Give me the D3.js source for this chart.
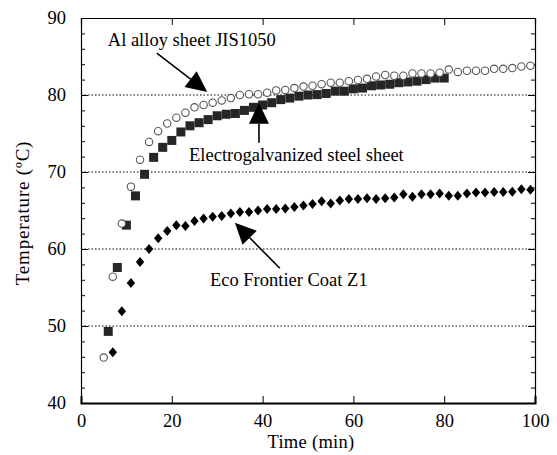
<!DOCTYPE html>
<html>
<head>
<meta charset="utf-8">
<script src="https://cdn.jsdelivr.net/npm/d3@7"></script>
<style>
  html, body { margin: 0; padding: 0; background: #fff; }
  svg { display: block; font-family: "Liberation Serif", "Times New Roman", serif; }
</style>
</head>
<body>
<svg id="chart" width="557" height="455"></svg>
<script>
// Temperature rise of three sheet materials over time
const alTime = [5,7,9,11,13,15,17,19,21,23,25,27,29,31,33,35,37,39,41,43,45,47,49,51,53,55,57,59,61,63,65,67,69,71,73,75,77,79,81,83,85,87,89,91,93,95,97,99];
const alTemp = [45.9,56.4,63.3,68.1,71.6,73.9,75.3,76.3,77.05,77.7,78.4,78.7,79.0,79.3,79.6,80.0,80.1,80.1,80.3,80.6,80.65,80.9,81.1,81.2,81.4,81.6,81.6,81.8,81.95,82.1,82.4,82.6,82.5,82.5,82.8,82.8,82.8,82.9,83.3,83.0,83.15,83.15,83.15,83.4,83.4,83.5,83.7,83.8];

const egTime = [6,8,10,12,14,16,18,20,22,24,26,28,30,32,34,36,38,40,42,44,46,48,50,52,54,56,58,60,62,64,66,68,70,72,74,76,78,80];
const egTemp = [49.3,57.6,63.1,66.9,69.7,71.9,73.2,74.1,75.2,76.0,76.4,76.8,77.3,77.5,77.6,78.0,78.4,78.7,79.0,79.4,79.6,79.85,80.0,80.05,80.2,80.5,80.5,80.8,80.9,81.2,81.3,81.4,81.6,81.7,81.8,82.0,82.2,82.2];

const ecoTime = [7,9,11,13,15,17,19,21,23,25,27,29,31,33,35,37,39,41,43,45,47,49,51,53,55,57,59,61,63,65,67,69,71,73,75,77,79,81,83,85,87,89,91,93,95,97,99];
const ecoTemp = [46.6,51.9,55.6,58.3,60.0,61.4,62.35,63.1,63.0,63.65,63.95,64.2,64.3,64.6,64.8,64.8,65.0,65.2,65.2,65.25,65.45,65.65,65.85,66.2,65.9,66.3,66.5,66.5,66.6,66.5,66.6,66.7,67.1,66.8,67.1,67.1,67.2,66.9,66.9,67.2,67.35,67.35,67.4,67.4,67.45,67.75,67.7];

const xTicks = [0, 20, 40, 60, 80, 100];
const yTicks = [40, 50, 60, 70, 80, 90];
const yMinorTicks = [42,44,46,48,52,54,56,58,62,64,66,68,72,74,76,78,82,84,86,88];
const gridValues = [50, 60, 70, 80];

// Callout labels: text anchor and arrow (tail -> tip), in data units
const labels = [
  { text: "Al alloy sheet JIS1050", at: [5.9, 86.4], tail: [16.7, 85.45], tip: [27.8, 80.4] },
  { text: "Electrogalvanized steel sheet", at: [23.8, 71.4], tail: [39.2, 73.8], tip: [39.2, 79.0] },
  { text: "Eco Frontier Coat Z1", at: [28.4, 55.2], tail: [43.8, 57.5], tip: [33.9, 63.4] }
];

const svg = d3.select("#chart");
const plot = { left: 81, right: 535, top: 18, bottom: 403 };

const x = d3.scaleLinear().domain([0, 100]).range([plot.left, plot.right]);
const y = d3.scaleLinear().domain([40, 90]).range([plot.bottom, plot.top]);

// Dotted horizontal grid
svg.append("g").selectAll("line").data(gridValues).join("line")
  .attr("x1", plot.left).attr("x2", plot.right)
  .attr("y1", d => y(d)).attr("y2", d => y(d))
  .attr("stroke", "#000").attr("stroke-width", 1)
  .attr("stroke-dasharray", "1.5,2");

// Axes (ticks drawn inward on all four sides)
const fontSize = 18.5;
const axBottom = svg.append("g").attr("transform", `translate(0,${plot.bottom})`)
  .call(d3.axisBottom(x).tickValues(xTicks).tickSize(-7).tickPadding(11).tickFormat(d3.format("d")));
const axTop = svg.append("g").attr("transform", `translate(0,${plot.top})`)
  .call(d3.axisTop(x).tickValues(xTicks).tickSize(-7).tickFormat(""));
const axLeft = svg.append("g").attr("transform", `translate(${plot.left},0)`)
  .call(d3.axisLeft(y).tickValues(yTicks).tickSize(-7).tickPadding(15).tickFormat(d3.format("d")));
const axRight = svg.append("g").attr("transform", `translate(${plot.right},0)`)
  .call(d3.axisRight(y).tickValues(yTicks).tickSize(-7).tickFormat(""));
const minorLeft = svg.append("g").attr("transform", `translate(${plot.left},0)`)
  .call(d3.axisLeft(y).tickValues(yMinorTicks).tickSize(-4).tickFormat(""));
const minorRight = svg.append("g").attr("transform", `translate(${plot.right},0)`)
  .call(d3.axisRight(y).tickValues(yMinorTicks).tickSize(-4).tickFormat(""));

[axBottom, axTop, axLeft, axRight, minorLeft, minorRight].forEach(g => {
  g.selectAll(".domain").attr("stroke", "#000").attr("stroke-width", 1.2);
  g.selectAll(".tick line").attr("stroke", "#000").attr("stroke-width", 1);
  g.selectAll("text").attr("font-family", "Liberation Serif").attr("font-size", fontSize).attr("fill", "#000");
});
minorLeft.select(".domain").remove();
minorRight.select(".domain").remove();
axBottom.select(".domain").attr("stroke-width", 2);

// Axis titles
svg.append("text")
  .attr("x", 311).attr("y", 448)
  .attr("text-anchor", "middle").attr("font-size", fontSize)
  .attr("letter-spacing", 0.3)
  .text("Time (min)");
svg.append("text")
  .attr("transform", `translate(29,213) rotate(-90)`)
  .attr("text-anchor", "middle").attr("font-size", 19)
  .attr("letter-spacing", 0.8)
  .text("Temperature (ºC)");

// Series markers
const al = alTime.map((t, i) => [t, alTemp[i]]);
const eg = egTime.map((t, i) => [t, egTemp[i]]);
const eco = ecoTime.map((t, i) => [t, ecoTemp[i]]);

svg.append("g").selectAll("rect").data(eg).join("rect")
  .attr("x", d => x(d[0]) - 4.5).attr("y", d => y(d[1]) - 4.5)
  .attr("width", 9).attr("height", 9)
  .attr("fill", "#262626");

svg.append("g").selectAll("circle").data(al).join("circle")
  .attr("cx", d => x(d[0])).attr("cy", d => y(d[1]))
  .attr("r", 3.7)
  .attr("fill", "#fff").attr("stroke", "#555").attr("stroke-width", 1.1);

svg.append("g").selectAll("path").data(eco).join("path")
  .attr("transform", d => `translate(${x(d[0])},${y(d[1])})`)
  .attr("d", "M0,-5L4.2,0L0,5L-4.2,0Z")
  .attr("fill", "#000");

// Callouts
const ann = svg.append("g");
labels.forEach(l => {
  const tx = x(l.tail[0]), ty = y(l.tail[1]);
  const hx = x(l.tip[0]), hy = y(l.tip[1]);
  const dx = hx - tx, dy = hy - ty, len = Math.hypot(dx, dy);
  const ux = dx / len, uy = dy / len;
  const headLen = 21, headHalf = 10;
  const bx = hx - ux * headLen, by = hy - uy * headLen;
  ann.append("line")
    .attr("x1", tx).attr("y1", ty).attr("x2", bx).attr("y2", by)
    .attr("stroke", "#000").attr("stroke-width", 1.6);
  ann.append("path")
    .attr("d", `M${hx},${hy}L${bx - uy * headHalf},${by + ux * headHalf}L${bx + uy * headHalf},${by - ux * headHalf}Z`)
    .attr("fill", "#000");
  ann.append("text")
    .attr("x", x(l.at[0])).attr("y", y(l.at[1]))
    .attr("font-size", fontSize).attr("fill", "#000")
    .text(l.text);
});
</script>
</body>
</html>
